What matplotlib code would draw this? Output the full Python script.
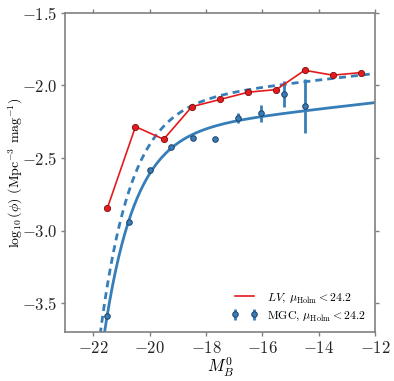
"""
Luminosity function: LV sample vs MGC with Schechter fits.
"""

import matplotlib

matplotlib.use("Agg")
import matplotlib.pyplot as plt
import numpy as np

plt.rcParams["font.family"] = "serif"
plt.rcParams["font.serif"] = ["cmr10", "DejaVu Serif"]
plt.rcParams["mathtext.fontset"] = "cm"
plt.rcParams["axes.formatter.use_mathtext"] = True
plt.rcParams["axes.unicode_minus"] = True

# LV sample (red)
lv_mag = [-21.5, -20.5, -19.5, -18.5, -17.5, -16.5, -15.5, -14.5, -13.5, -12.5]
lv_logphi = [-2.847, -2.285, -2.372, -2.148, -2.098, -2.048, -2.03, -1.897, -1.931, -1.913]

# MGC points with error bars (blue)
mgc_mag = [-21.5, -20.73, -19.98, -19.25, -18.47, -17.67, -16.87, -16.03, -15.23, -14.48]
mgc_logphi = [-3.586, -2.943, -2.584, -2.425, -2.36, -2.367, -2.226, -2.194, -2.059, -2.141]
mgc_err = [0.01, 0.01, 0.01, 0.01, 0.01, 0.014, 0.037, 0.057, 0.089, 0.185]

# Schechter fit parameters (solid), dashed is the same fit offset in normalisation
mstar = -20.35
alpha = -1.055
log_norm = -2.303
dashed_offset = 0.2

blue = "#377eb8"
red = "#e41a1c"


def schechter_log(mag, mstar, alpha, log_norm):
    u = 10 ** (0.4 * (mstar - mag))
    return log_norm + (alpha + 1) * np.log10(u) - u / np.log(10)


fig = plt.figure(figsize=(3.94, 3.81), dpi=100)
ax = fig.add_axes([0.165, 0.128, 0.787, 0.839])

mag_grid = np.linspace(-23, -12, 400)
fit = schechter_log(mag_grid, mstar, alpha, log_norm)
ax.plot(mag_grid, fit, color=blue, lw=2.0, zorder=2)
ax.plot(mag_grid, fit + dashed_offset, color=blue, lw=2.0, ls=(0, (2.5, 1.8)), zorder=2)

ax.plot(lv_mag, lv_logphi, color=red, lw=1.2, zorder=5, label=r"$LV$, $\mu_{\rm Holm} < 24.2$")
ax.plot(lv_mag, lv_logphi, "o", color=red, ms=4.5, mec="#7a0d0e", mew=0.6, zorder=6)

ax.errorbar(
    mgc_mag,
    mgc_logphi,
    yerr=mgc_err,
    fmt="o",
    color=blue,
    ms=4,
    mec="#1f3f66",
    mew=0.7,
    elinewidth=2,
    capsize=0,
    zorder=4,
    label=r"MGC, $\mu_{\rm Holm} < 24.2$",
)

ax.set_xlim(-23, -12)
ax.set_ylim(-3.7, -1.5)
ax.set_xticks([-22, -20, -18, -16, -14, -12])
ax.set_yticks([-3.5, -3.0, -2.5, -2.0, -1.5])
ax.yaxis.set_major_formatter(matplotlib.ticker.FormatStrFormatter(r"$%.1f$"))
ax.xaxis.set_major_formatter(matplotlib.ticker.FormatStrFormatter(r"$%d$"))

for side in ax.spines.values():
    side.set_color("#808080")
    side.set_linewidth(1.2)
ax.tick_params(
    direction="out", length=3, width=1, color="#808080", labelsize=12,
    top=True, right=True, labelcolor="#262626", pad=2.5,
)

ax.set_xlabel(r"$M_B^0$", fontsize=12, labelpad=0)
ax.set_ylabel(r"$\log_{10}(\phi)$ (Mpc$^{-3}$ mag$^{-1}$)", fontsize=10)
ax.yaxis.set_label_coords(-0.13, 0.5)

handles, labels = ax.get_legend_handles_labels()
order = [labels.index(l) for l in labels if l.startswith("$LV")] + \
        [labels.index(l) for l in labels if l.startswith("MGC")]
ax.legend(
    [handles[i] for i in order], [labels[i] for i in order],
    loc="lower right", frameon=False, numpoints=2,
    fontsize=8.5, handlelength=2.2, borderaxespad=0.4, labelspacing=0.4,
)

fig.savefig("out.png", dpi=100)
